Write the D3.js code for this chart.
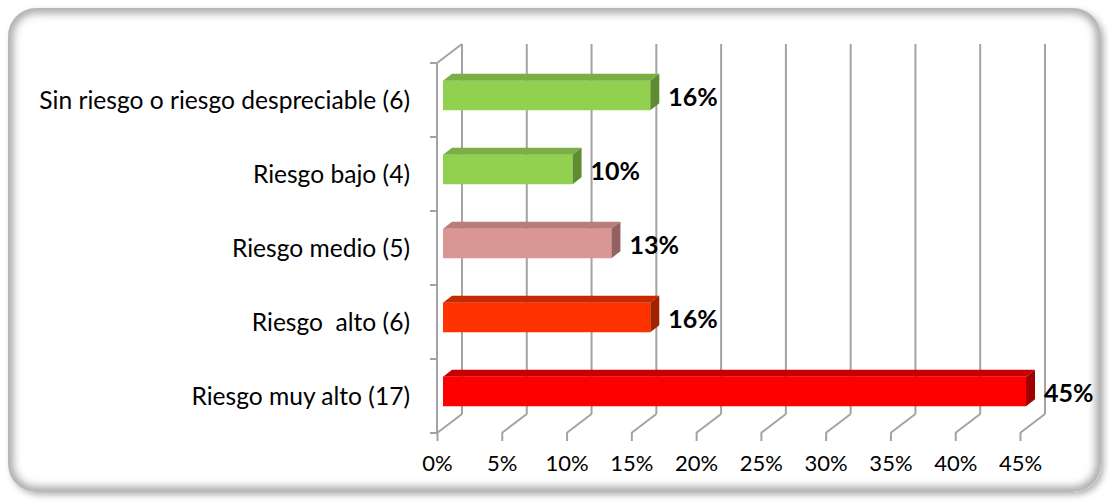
<!DOCTYPE html>
<html><head><meta charset="utf-8">
<script src="https://cdn.jsdelivr.net/npm/d3@7/dist/d3.min.js"></script>
<style>
html,body{margin:0;padding:0;background:#fff;}
svg{display:block;}
text{font-family:Lato,"Open Sans",sans-serif;}
</style></head>
<body>
<svg id="chart" width="1109" height="501"></svg>
<script>
const categories = ["Sin riesgo o riesgo despreciable (6)", "Riesgo bajo (4)", "Riesgo medio (5)", "Riesgo  alto (6)", "Riesgo muy alto (17)"];
const values = [16, 10, 13, 16, 45];
const valueLabels = ["16%", "10%", "13%", "16%", "45%"];
const tickValues = [0, 5, 10, 15, 20, 25, 30, 35, 40, 45];
const tickLabels = ["0%", "5%", "10%", "15%", "20%", "25%", "30%", "35%", "40%", "45%"];
const frontColors = ["#92D050", "#92D050", "#D99694", "#FF3300", "#FF0000"];
const topColors   = ["#7BAE44", "#7BAE44", "#B97D7C", "#C82A00", "#C80000"];
const sideColors  = ["#5F8B31", "#5F8B31", "#956160", "#A22200", "#A00000"];

const svg = d3.select("#chart");

// ---- card ----
const defs = svg.append("defs");
const ds = defs.append("filter").attr("id","outer").attr("x","-5%").attr("y","-5%").attr("width","110%").attr("height","110%");
ds.append("feDropShadow").attr("dx",3).attr("dy",3).attr("stdDeviation",3).attr("flood-color","#000").attr("flood-opacity",0.3);
const blur = defs.append("filter").attr("id","blur").attr("x","-5%").attr("y","-5%").attr("width","110%").attr("height","110%");
blur.append("feGaussianBlur").attr("stdDeviation",5);
const card = {x:8, y:8, w:1093, h:484, r:28};
defs.append("clipPath").attr("id","cardclip").append("rect")
  .attr("x",card.x).attr("y",card.y).attr("width",card.w).attr("height",card.h).attr("rx",card.r);
svg.append("rect").attr("x",card.x).attr("y",card.y).attr("width",card.w).attr("height",card.h).attr("rx",card.r)
  .attr("fill","#fff").attr("filter","url(#outer)");
svg.append("g").attr("clip-path","url(#cardclip)").append("rect")
  .attr("x",card.x).attr("y",card.y).attr("width",card.w).attr("height",card.h).attr("rx",card.r)
  .attr("fill","none").attr("stroke","#8a8a8a").attr("stroke-width",8).attr("filter","url(#blur)");

// ---- scales ----
const x = d3.scaleLinear().domain([0,45]).range([437,1020]);
const y = d3.scaleBand().domain(categories).range([63,433]);
const DX = 25, DY = -19;
const P = (px, py, t) => [px + DX*t, py + DY*t];
const yTop = y.range()[0], yBot = y.range()[1];
const grid = "#A3A3A3";

const g = svg.append("g");

// back wall vertical gridlines
g.selectAll("line.back").data(tickValues).enter().append("line")
  .attr("x1", d => P(x(d), yTop, 1)[0]).attr("y1", P(x(0), yTop, 1)[1])
  .attr("x2", d => P(x(d), yBot, 1)[0]).attr("y2", P(x(0), yBot, 1)[1])
  .attr("stroke", grid).attr("stroke-width", 2);

// floor diagonals
g.selectAll("line.floor").data(tickValues).enter().append("line")
  .attr("x1", d => x(d)).attr("y1", yBot)
  .attr("x2", d => P(x(d), yBot, 1)[0]).attr("y2", d => P(x(d), yBot, 1)[1])
  .attr("stroke", grid).attr("stroke-width", 2);

// left wall: front vertical axis and top diagonal
g.append("line").attr("x1", x(0)).attr("y1", yTop).attr("x2", x(0)).attr("y2", yBot)
  .attr("stroke", grid).attr("stroke-width", 2);
g.append("line").attr("x1", x(0)).attr("y1", yTop).attr("x2", P(x(0),yTop,1)[0]).attr("y2", P(x(0),yTop,1)[1])
  .attr("stroke", grid).attr("stroke-width", 2);

// category boundary ticks
const bounds = categories.map(c => y(c)).concat([yBot]);
g.selectAll("line.ctick").data(bounds).enter().append("line")
  .attr("x1", x(0) - 7).attr("x2", x(0)).attr("y1", d => d).attr("y2", d => d)
  .attr("stroke", grid).attr("stroke-width", 2);

// bottom axis (ticks + labels)
const xAxis = d3.axisBottom(x).tickValues(tickValues).tickFormat((d,i) => tickLabels[i]).tickSize(8).tickPadding(14);
const ax = svg.append("g").attr("transform", `translate(0,${yBot})`).call(xAxis);
ax.select(".domain").remove();
ax.selectAll(".tick line").attr("stroke", grid).attr("stroke-width", 2);
ax.selectAll(".tick text").attr("fill", "#000").style("font-size", "22px").style("font-family", "Lato, sans-serif");

// left axis (labels)
const yAxis = d3.axisLeft(y).tickSize(0).tickPadding(27);
const ay = svg.append("g").attr("transform", `translate(${x(0)},0)`).call(yAxis);
ay.select(".domain").remove();
ay.selectAll(".tick text").attr("fill", "#000").style("font-size", "24.6px").style("font-family", "Lato, sans-serif")
  .style("white-space", "pre").attr("dy", "0.36em");

// ---- bars ----
const t0 = 0.24, t1 = 0.6, bh = 29.5;
const bars = svg.append("g");
categories.forEach((c, i) => {
  const cy = y(c) + y.bandwidth()/2;
  const top = cy - bh/2, bot = cy + bh/2;
  const xl = x(0), xr = x(values[i]);
  const f = (px, py, t) => P(px, py, t).join(",");
  bars.append("polygon").attr("points", [f(xl,top,t0), f(xr,top,t0), f(xr,bot,t0), f(xl,bot,t0)].join(" "))
    .attr("fill", frontColors[i]);
  bars.append("polygon").attr("points", [f(xl,top,t0), f(xr,top,t0), f(xr,top,t1), f(xl,top,t1)].join(" "))
    .attr("fill", topColors[i]);
  bars.append("polygon").attr("points", [f(xr,top,t0), f(xr,top,t1), f(xr,bot,t1), f(xr,bot,t0)].join(" "))
    .attr("fill", sideColors[i]);
  bars.append("text").attr("x", xr + 24).attr("y", cy + 6)
    .attr("fill", "#000").style("font-size", "25px").style("font-weight", "bold")
    .text(valueLabels[i]);
});
</script>
</body></html>
